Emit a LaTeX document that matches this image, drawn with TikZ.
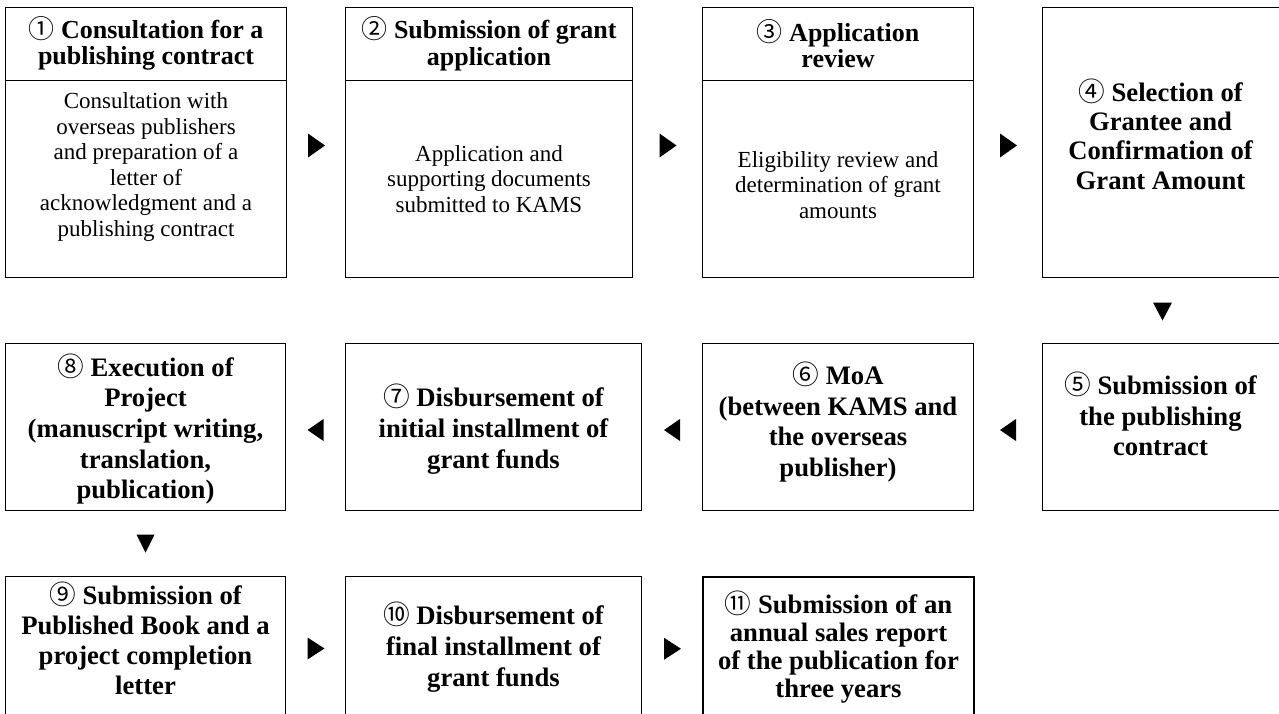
\documentclass[tikz,border=0pt]{standalone}
\usepackage{fontspec}
\setmainfont{Liberation Serif}
\newfontfamily\cjkfont{Noto Sans CJK KR}
\usetikzlibrary{calc}
\newcommand{\cn}[1]{{\cjkfont\mdseries #1}}
\begin{document}
\begin{tikzpicture}[x=0.75pt,y=-0.75pt,
  box/.style={draw, line width=0.75pt, inner sep=0pt, anchor=north west},
  thickbox/.style={box, line width=1.5pt},
  hd/.style={font=\fontsize{19.5}{20}\selectfont\bfseries, align=center, inner sep=0pt},
  bd/.style={font=\fontsize{17.25}{19.2}\selectfont, align=center, inner sep=0pt},
  bb/.style={font=\fontsize{20}{23}\selectfont\bfseries, align=center, inner sep=0pt},
  tri/.style={fill=black, draw=none}]
\useasboundingbox (0,0) rectangle (1279,714);
\clip (0,0) rectangle (1279,714);
\fill[white] (0,0) rectangle (1279,714);

% row 1
\node[box, minimum width=210.75pt, minimum height=202.5pt] (b1) at (5,7) {};
\node[box, minimum width=215.25pt, minimum height=202.5pt] (b2) at (345,7) {};
\node[box, minimum width=203.25pt, minimum height=202.5pt] (b3) at (702,7) {};
\node[box, minimum width=180pt, minimum height=202.5pt] (b4) at (1042,7) {};
\foreach \b in {b1,b2,b3}{
  \draw[line width=0.75pt] ($(\b.north west)+(0,73)$) -- ($(\b.north east)+(0,73)$);
}
\node[hd] (h1) at ($(b1.north)+(0,36.5)$) {\cn{①} Consultation for a\\publishing contract};
\node[bd] (t1) at ($(b1.north)+(0,160)$) {Consultation with\\overseas publishers\\and preparation of a\\letter of\\acknowledgment and a\\publishing contract};
\node[hd] (h2) at ($(b2.north)+(0,36.5)$) {\cn{②} Submission of grant\\application};
\node[bd] (t2) at ($(b2.north)+(0,172)$) {Application and\\supporting documents\\submitted to KAMS};
\node[hd] (h3) at ($(b3.north)+(0,36.5)$) {\cn{③} Application\\review};
\node[bd] (t3) at ($(b3.north)+(0,178)$) {Eligibility review and\\determination of grant\\amounts};
\node[bb, font=\fontsize{20}{22}\selectfont\bfseries] (t4) at ($(b4.north)+(-2,127)$) {\cn{④} Selection of\\Grantee and\\Confirmation of\\Grant Amount};

% row 2
\node[box, minimum width=210pt, minimum height=125.25pt] (b8) at (5,343) {};
\node[box, minimum width=222pt, minimum height=125.25pt] (b7) at (345,343) {};
\node[box, minimum width=203.25pt, minimum height=125.25pt] (b6) at (702,343) {};
\node[box, minimum width=180pt, minimum height=125.25pt] (b5) at (1042,343) {};
\node[bb] (t8) at ($(b8.center)+(0,2)$) {\cn{⑧} Execution of\\Project\\(manuscript writing,\\translation,\\publication)};
\node[bb] (t7) at ($(b7.center)+(0,2)$) {\cn{⑦} Disbursement of\\initial installment of\\grant funds};
\node[bb] (t6) at ($(b6.center)+(0,-5)$) {\cn{⑥} MoA\\(between KAMS and\\the overseas\\publisher)};
\node[bb] (t5) at ($(b5.center)+(-2,-13)$) {\cn{⑤} Submission of\\the publishing\\contract};

% row 3
\node[box, minimum width=210pt, minimum height=108pt] (b9) at (5,576) {};
\node[box, minimum width=222pt, minimum height=108pt] (b10) at (345,576) {};
\node[thickbox, minimum width=203.25pt, minimum height=108pt] (b11) at (702,576) {};
\node[bb, font=\fontsize{20}{22.5}\selectfont\bfseries] (t9) at ($(b9.north)+(0,62)$) {\cn{⑨} Submission of\\Published Book and a\\project completion\\letter};
\node[bb] (t10) at ($(b10.north)+(0,71)$) {\cn{⑩} Disbursement of\\final installment of\\grant funds};
\node[bb, font=\fontsize{20}{21}\selectfont\bfseries] (t11) at ($(b11.north)+(0,71)$) {\cn{⑪} Submission of an\\annual sales report\\of the publication for\\three years};

% arrows (triangles)
\foreach \a/\b in {b1/b2,b2/b3,b3/b4}{
  \fill[tri] ($(\a.east)!0.5!(\b.west)+(-8,-9)$) -- ++(17,12) -- ++(-17,12) -- cycle;
}
\fill[tri] ($(b4.south)!0.5!(b5.north)+(-9.5,-8)$) -- ++(19,0) -- ++(-9.5,18) -- cycle;
\foreach \a/\b in {b7/b8,b6/b7,b5/b6}{
  \fill[tri] ($(\a.west)!0.5!(\b.east)+(8,-8)$) -- ++(-16,11) -- ++(16,11) -- cycle;
}
\fill[tri] ($(b8.south)!0.5!(b9.north)+(-9,-9)$) -- ++(18,0) -- ++(-9,18) -- cycle;
\foreach \a/\b in {b9/b10,b10/b11}{
  \fill[tri] ($(\a.east)!0.5!(\b.west)+(-8,-11)$) -- ++(17,11) -- ++(-17,11) -- cycle;
}
\end{tikzpicture}
\end{document}
